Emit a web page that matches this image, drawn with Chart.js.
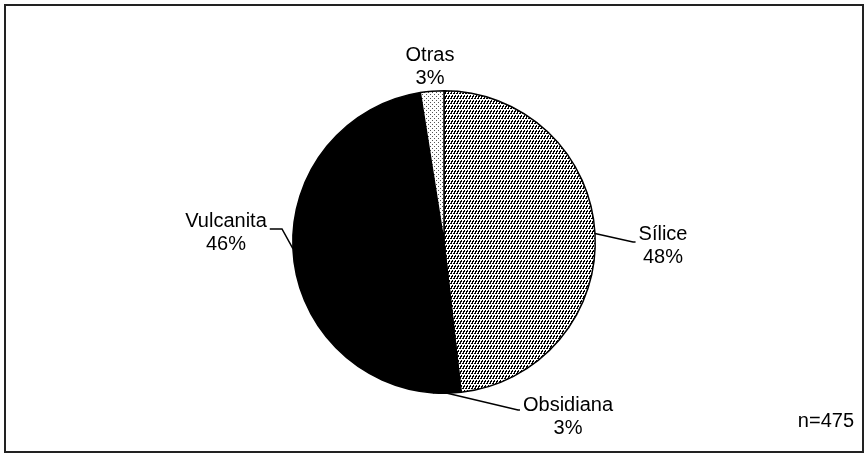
<!DOCTYPE html>
<html>
<head>
<meta charset="utf-8">
<script src="https://cdn.jsdelivr.net/npm/chart.js@4"></script>
<style>
  body { margin: 0; background: #fff; }
  canvas { display: block; }
</style>
</head>
<body>
<canvas id="pie-chart" width="865" height="453"></canvas>
<script>
"use strict";

const categories = ["Sílice", "Obsidiana", "Vulcanita", "Otras"];
const shares = [48.2, 2.9, 46.4, 2.5];
const sampleNote = "n=475";

// label anchor (text centre) and leader elbow for each slice
const labelSpots = [
  { x: 663, y: 245, elbow: [633, 242] },
  { x: 568, y: 416, elbow: [518, 410] },
  { x: 226, y: 232, elbow: [282, 229] },
  { x: 430, y: 66, elbow: null },
];

function makePattern(w, h, draw) {
  const c = document.createElement("canvas");
  c.width = w;
  c.height = h;
  const g = c.getContext("2d");
  g.fillStyle = "#fff";
  g.fillRect(0, 0, w, h);
  draw(g);
  return c.getContext("2d").createPattern(c, "repeat");
}

const ctx = document.getElementById("pie-chart");

// short slanted strokes, dense
const hatch = makePattern(3, 5, (g) => {
  g.fillStyle = "#000";
  g.fillRect(2, 0, 1, 1);
  g.fillRect(1, 1, 2, 1);
  g.fillRect(1, 2, 1, 1);
  g.fillRect(0, 3, 2, 1);
});
const dots = makePattern(4, 4, (g) => {
  g.fillStyle = "#555";
  g.fillRect(0, 0, 1, 1);
  g.fillRect(2, 2, 1, 1);
});

const labelPlugin = {
  id: "pieLabels",
  beforeDraw(chart) {
    const c = chart.ctx;
    c.save();
    c.fillStyle = "#fff";
    c.fillRect(0, 0, chart.width, chart.height);
    c.restore();
  },
  afterDraw(chart) {
    const c = chart.ctx;
    const arcs = chart.getDatasetMeta(0).data;
    c.save();
    c.strokeStyle = "#000";
    c.lineWidth = 1.5;
    c.fillStyle = "#000";
    c.font = "20px 'Liberation Sans', Arial, sans-serif";
    c.textAlign = "center";
    c.textBaseline = "middle";
    arcs.forEach((arc, i) => {
      const spot = labelSpots[i];
      const mid = (arc.startAngle + arc.endAngle) / 2;
      const px = arc.x + Math.cos(mid) * arc.outerRadius;
      const py = arc.y + Math.sin(mid) * arc.outerRadius;
      if (spot.elbow) {
        const w = c.measureText(categories[i]).width;
        const side = spot.x > arc.x ? -1 : 1;
        const end = spot.x + side * (w / 2 + 3);
        c.beginPath();
        c.moveTo(px, py);
        c.lineTo(spot.elbow[0], spot.elbow[1]);
        c.lineTo(end, spot.elbow[1]);
        c.stroke();
      }
      c.fillText(categories[i], spot.x, spot.y - 11);
      c.fillText(Math.round(shares[i]) + "%", spot.x, spot.y + 12);
    });
    c.textAlign = "right";
    c.fillText(sampleNote, 854, 421);
    // outer frame
    c.strokeStyle = "#222";
    c.lineWidth = 2;
    c.strokeRect(5, 5, 858, 447);
    c.restore();
  },
};

new Chart(ctx, {
  type: "pie",
  data: {
    labels: categories,
    datasets: [
      {
        data: shares,
        backgroundColor: [hatch, "#000", "#000", dots],
        borderColor: "#000",
        borderWidth: 1.5,
        hoverOffset: 0,
        offset: 0,
      },
    ],
  },
  options: {
    responsive: false,
    animation: false,
    events: [],
    layout: {
      padding: { left: 292, right: 269, top: 90, bottom: 59 },
    },
    plugins: {
      legend: { display: false },
      tooltip: { enabled: false },
    },
  },
  plugins: [labelPlugin],
});
</script>
</body>
</html>
